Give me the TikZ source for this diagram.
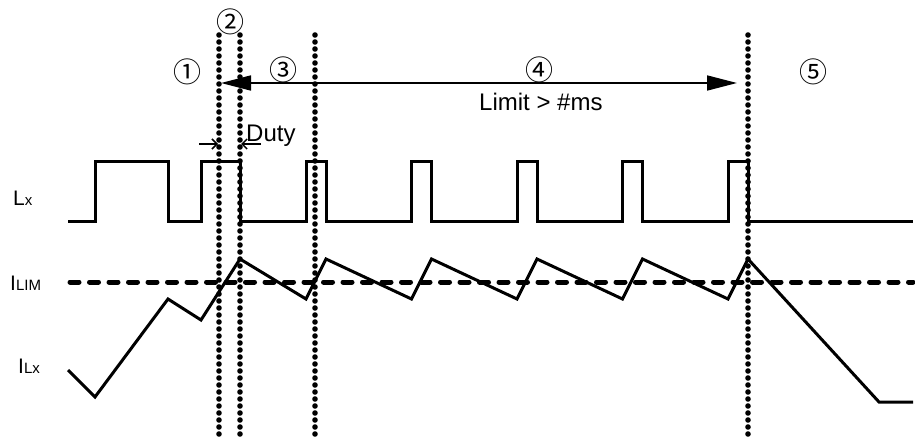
\documentclass[tikz,border=0pt]{standalone}
\usepackage{fontspec}
\setmainfont{Liberation Sans}
\newfontfamily\circfont{Noto Sans CJK SC}
\usepackage{tikz}
\usetikzlibrary{arrows.meta,positioning}
\tikzset{font=\fontsize{24}{26}\selectfont}
\tikzset{wave/.style={line width=3pt, line join=miter}}
\tikzset{limitline/.style={line width=5pt, line cap=round, dash pattern=on 9pt off 10.5pt}}
\tikzset{marker/.style={line width=5.6pt, line cap=round, dash pattern=on 0pt off 7pt}}
\tikzset{phase/.style={font=\circfont\fontsize{28}{28}\selectfont}}
\tikzset{signame/.style={anchor=base west, inner sep=0, font=\fontsize{21}{24}\selectfont}}
\newcommand{\subtxt}[1]{{\fontsize{15}{15}\selectfont #1}}

\begin{document}
\begin{tikzpicture}[x=1pt, y=-1pt]
  \useasboundingbox (0,0) rectangle (915,441);

  % signal names
  \node[signame] (lx) at (13,205) {L\subtxt{x}};
  \node[signame] (ilim) at (10,290) {I\subtxt{LIM}};
  \node[signame] (ilx) at (18,373) {I\subtxt{Lx}};

  % switch node
  \draw[wave] (68,221) -- (95,221) |- (168,161) |- (201,221) |- (240,161) |- (306,221)
    \foreach \p in {306,411.5,517,622.5,728}{ -- (\p,221) |- (\p+20,161) -- (\p+20,221) }
    -- (913,221);

  % current limit
  \draw[limitline] (70,282) -- (913,282);

  % inductor current
  \draw[wave] (68,370) -- (95,397) -- (168,299) -- (201,320) -- (240,259)
    \foreach \p in {306,411.5,517,622.5,728}{ -- (\p,299) -- (\p+20,259) }
    -- (879,402) -- (913,402);

  % phase borders
  \foreach \x/\n in {219/m1, 240/m2, 315/m3, 748/m4}{
    \coordinate (\n) at (\x,35);
    \draw[marker] (\n) -- (\x,441);
  }

  % phases
  \node[phase] (p1) at (187,72) {①};
  \node[phase] (p2) at (230,22) {②};
  \node[phase] (p3) at (283,70) {③};
  \node[phase] (p4) at (539,70) {④};
  \node[phase] (p5) at (813,72) {⑤};

  % limit time
  \coordinate (a1) at (221,83);
  \coordinate (a2) at (737,83);
  \draw[line width=1.7pt, {Triangle[length=30pt,width=15pt]}-{Triangle[length=30pt,width=15pt]}] (a1) -- (a2);
  \node[anchor=base west, inner sep=0] (lim) at (479,111) {Limit > \#ms};

  % duty
  \coordinate (d1) at (199,144);
  \coordinate (d2) at (261,144);
  \draw[line width=1.5pt, -{Straight Barb[length=5pt,width=10pt]}] (d1) -- (218,144);
  \draw[line width=1.5pt, -{Straight Barb[length=5pt,width=10pt]}] (d2) -- (241,144);
  \node[anchor=base west, inner sep=0] (duty) at (246,141) {Duty};
\end{tikzpicture}
\end{document}
